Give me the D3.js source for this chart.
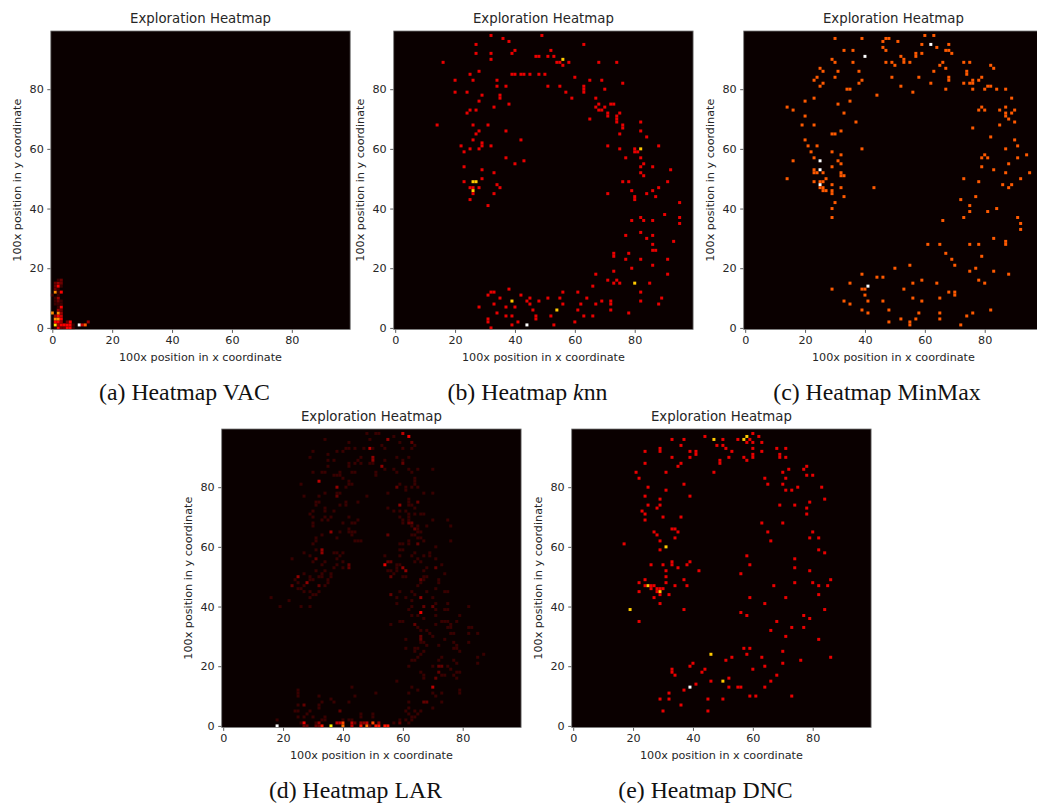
<!DOCTYPE html>
<html>
<head>
<meta charset="utf-8">
<script src="https://cdn.jsdelivr.net/npm/d3@7"></script>
<style>
  html, body { margin: 0; padding: 0; background: #fff; overflow: hidden; }
  text { font-family: "DejaVu Sans", sans-serif; fill: #262626; }
  .axis text { font-size: 11.2px; }
  .axis line { stroke: #333; stroke-width: 0.8; }
  .axis path { display: none; }
  .title { font-size: 13.3px; }
  .label { font-size: 11.2px; }
  .caption { font-family: "Liberation Serif", serif; font-size: 23.8px; fill: #111; }
</style>
</head>
<body>
<div id="chart"></div>
<script>
// cells are [x bin, y bin, visits]; visits left out means 1
let vacCells = [
    [1,0],[2,0,5],[3,0,2],[4,0,2],[5,0,5],[6,0,5],[7,0],
    [1,1,10],[2,1,3],[3,1,5],[4,1,5],[5,1,5],[6,1,5],[7,1],[9,1,14],[10,1,4],[11,1,7],
    [1,2,5],[2,2,5],[3,2,3],[5,2,2],[6,2,5],[12,2,3],
    [1,3,8],[2,3,8],[3,3,5],
    [1,4,3],[2,4,5],[3,4,4],
    [0,5,8],[2,5,8],[3,5,3],
    [2,6,3],[3,6,2],
    [2,7],[3,7,5],
    [1,8],[2,8],[3,8],
    [1,9],[2,9,2],[3,9],
    [1,10],[2,10,3],
    [0,11],[2,11],
    [1,12,8],[2,12],[3,12,5],
    [1,13,2],[2,13],
    [1,14,2],[2,14,5],[3,14],
    [1,15,2],[2,15,3],[3,15,2],
    [2,16],[3,16,2]
];

let knnCells = [
    [32,98],[49,98],[36,97],[38,96],[27,95],[63,95],[40,93],[52,93],[27,92],[32,92],[39,92],
    [47,91],[48,91],[51,91],[53,91],[32,90],[56,90,2],[16,89],[54,89],[55,89],[58,89],[68,89],[74,89],
    [56,88],[28,86],[25,85],[39,85],[40,85],[42,85],[43,85],[45,85],[48,85],[50,85],[60,84],
    [20,83],[26,83],[34,83],[65,83],[69,83],[76,82],[34,81],[37,81],[51,81],[55,81],[63,81],[63,80],[63,79],
    [70,80],[20,79],[24,79],[57,79],[29,78],[35,78],[35,77],[59,77],[67,77],[28,76],[68,75],[38,75],[72,75],[73,75],
    [33,74],[67,74],[70,74],[25,73],[27,73],[68,73],[69,73],[24,72],[71,72],[71,71],[75,72],[74,71],[74,70],[74,69],
    [65,70],[82,69],[14,68],[26,68],[31,68],[76,68],[76,67],[28,66],[37,66],[82,66],[27,65],[75,65],[84,64],
    [26,63],[42,63],[29,62],[29,61],[22,61],[32,61],[71,61],[88,61],[25,60],[28,60],[75,60],[80,60],[80,59],[81,59],[82,60,2],
    [23,59],[37,57],[82,57],[77,57],[40,55],[43,56],[83,55],[23,54],[82,54],[86,54],[29,53],[33,52],[82,52],[92,53],[83,51],[29,50],
    [23,49],[26,49,2],[27,49,2],[34,48],[25,47],[26,47],[28,47],[35,47],[26,46,2],[26,45],[33,45],[25,43],[31,41],
    [76,49],[78,49],[91,49],[79,46],[86,46],[88,47],[71,45],[84,45],[80,44],[80,43],[87,44],[95,42],
    [82,37],[90,38],[79,36],[83,36],[86,36],[95,37],[95,35],[82,32],[77,31],[86,31],[84,30],[93,29],[86,28],[86,26],[87,26],
    [78,25],[73,25],[73,24],[77,23],[82,23],[91,23],[86,21],[79,20],[73,19],[67,18],[91,18],[71,16],[74,16],
    [73,15],[75,15],[80,15,2],[85,15],[66,14],[38,13],[32,12],[33,12],[56,12],[61,12],[82,12],[31,11],[42,11],
    [35,10],[45,10],[51,10],[55,10],[64,10],[89,10],[39,9,2],[44,9],[48,9],[69,9],[72,9],[72,8],[82,9],
    [33,8],[45,8],[56,8],[62,8],[67,8],[88,8],[28,7],[37,7],[40,7],[46,6],[54,6,2],[61,6],[72,6],[34,5],[78,5],
    [37,4],[39,4],[52,4],[63,4],[66,4],[47,4],[47,3],[31,3],[31,2],[41,2],[60,2],[39,1],[44,1,3],[53,1],[32,0]
];

let minmaxCells = [
    [30,97],[39,97],[47,97],[48,97],[60,98],[63,98],[46,96],[51,96],[59,95],[62,95,2],[68,95],[46,94],[64,94],
    [33,93],[36,93],[47,93],[67,93],[68,93],[57,92],[57,91],[59,92],[69,92],[40,91,2],[52,91],[29,90],[53,90],[53,89],
    [30,89],[36,89],[47,89],[49,89],[55,89],[66,89],[73,89],[75,89],[50,88],[65,88],[82,88],[25,87],[67,87],[83,87],
    [26,86],[31,86],[38,86],[63,86],[74,86],[74,85],[24,84],[30,84],[49,84],[58,84],[79,84],[68,84],[68,83],
    [23,83],[39,83],[76,83],[78,83],[26,82],[38,82],[62,82],[73,82],[75,82],[76,82],[25,81],[52,81],[81,81],[82,81],
    [34,80],[35,80],[67,80],[76,80],[80,80],[84,80],[87,80],[56,79],[44,78],[23,77],[89,77],[20,76],[35,76],[31,75],
    [14,74],[79,74],[87,74],[16,73],[78,73],[80,73],[85,73],[90,73],[33,72],[87,72],[87,71],[89,72],[20,71],[88,70],
    [37,69],[90,69],[19,68],[23,68],[85,68],[76,67],[32,66],[29,65],[30,65],[82,64],[20,63],[90,63],[21,61],[24,61],[91,61],
    [39,60],[87,60],[22,59],[29,59],[32,58],[80,58],[94,58],[23,57],[79,57],[81,57],[91,57],[16,56],[25,56,2],[31,56],
    [32,55],[88,55],[29,54],[79,54],[25,53,2],[83,53],[23,53],[23,52],[24,52],[26,52],[32,52],[87,52],[95,52],[32,51],[33,51],
    [14,50],[27,50],[73,50],[92,50],[23,49],[25,49],[26,49],[78,49],[29,48],[86,48],[89,48],[25,48,2],
    [25,47],[26,47],[32,47],[43,47],[88,47],[26,46],[27,46],[29,46],[29,45],[33,44],[77,44],[72,43],[30,42],[75,41],
    [29,40],[84,40],[75,39],[81,39],[29,37],[73,37],[91,37],[66,36],[92,35],[92,33],[83,30],[87,29],[87,28],
    [61,28],[65,28],[75,28],[78,28],[67,25],[79,24],[69,23],[70,21],[55,21],[50,20],[77,20],[75,19],[83,19],[39,18],[88,18],
    [44,17],[46,17],[59,16],[78,16],[35,15],[56,15],[64,15],[80,15],[41,14,2],[29,13],[39,13],[40,13],[53,13],
    [68,12],[70,12],[70,11],[40,11],[56,10],[65,10],[33,9],[41,9],[46,9],[59,9],[35,8],[39,6],[48,6],[82,6],
    [41,5],[58,5],[65,5],[76,5],[74,4],[52,3],[57,3],[65,3],[48,2],[55,2],[55,1],[72,1]
];

let larCells = [
    [48,98],[51,98],[52,98],[60,98,4],[62,97,5],[57,97],[55,96,3],[49,96],[34,96],[42,95],[59,95],[63,95,2],[53,94],[64,94],
    [49,93,4],[41,93],[42,93],[44,93],[47,93],[50,93],[54,93],[60,93],[63,93],[30,92],[38,92],[40,92],[35,91],
    [29,90],[46,90],[50,90,3],[50,89,3],[58,90],[62,90],[35,89],[37,89],[45,89],[54,89],[60,89],
    [42,88],[44,88],[46,88],[49,88],[50,88],[60,88,2],[35,87],[42,87],[53,87,3],[54,86],[57,86],[62,86],[65,86],[70,86],
    [30,85],[33,85],[34,85],[39,85],[43,85],[44,85],[51,85],[58,85],[63,85],[37,84],[38,84],[39,84],[51,84],[40,83],[64,83],
    [32,82,4],[42,82],[64,82],[26,81],[42,81],[43,81],[59,81],[64,81],[38,80,3],[41,80],[58,80,2],[61,80],[63,80],[65,80],[61,79],
    [34,78],[38,78],[39,78],[55,78],[67,78],[70,78],[27,77],[32,77],[38,77,2],[48,77],[62,76],
    [31,75],[32,75],[41,75],[45,75],[62,75],[65,75,2],[31,74],[39,74],[41,74],[59,74,3],[62,74],[63,74],[34,73],[55,73],[64,73],
    [30,72],[34,72],[37,72],[57,72],[59,72],[61,72],[29,71],[62,71],[64,71],[66,71],[67,71],
    [30,70],[34,70],[36,70],[42,70],[59,70],[62,70],[33,69],[35,69],[45,69],[60,69],[62,69],[70,69],[75,69],
    [30,68],[40,68],[43,68],[44,68],[60,68],[62,68,2],[63,68,2],[30,67],[63,67],[65,67],[68,67],[76,67],[42,66],[64,66,2],[65,66],
    [36,65,3],[39,65],[42,65],[43,65],[44,65],[65,65],[66,65],[33,64],[43,64],[55,64,2],[63,64],[64,64],
    [31,63],[38,63],[65,63],[66,63],[31,62],[44,62],[45,62],[46,62],[62,62],[67,62],[76,62],
    [30,61],[59,61],[60,61],[62,61],[65,61,2],[71,60],[31,59],[33,59,3],[33,58,3],[59,59],[60,59],
    [27,58],[37,58],[38,58],[40,58],[64,58],[69,58],[29,57],[39,57],[54,57],[59,57],[63,57],[67,57],[69,57],
    [23,56],[31,56,2],[38,56],[65,56],[71,56],[30,55],[34,55],[40,55],[55,55,2],[56,55,2],[64,55],[66,55],
    [33,54],[38,54],[42,54,2],[42,53,2],[54,54,5],[58,54],[59,54],[73,54],[37,53],[40,53],[58,53],[60,53,3],[68,53],[71,53,2],
    [31,52],[34,52],[55,52],[56,52],[58,52],[61,52,3],[67,52],[27,51],[33,51],[36,51],[57,51],[74,51],
    [25,50,3],[29,50],[32,50],[33,50],[36,50],[56,50,2],[60,50],[61,50],[67,50],[68,50],
    [24,49],[29,49],[30,49],[35,49],[66,49,2],[67,49],[72,49],
    [28,48,3],[25,48],[35,48],[72,48],[66,48],[23,47,2],[27,47],[32,47,2],[34,47],[65,47],[25,46],[26,46],[71,46],
    [27,45],[29,45],[32,45],[59,45],[63,45],[68,45],[74,45],[75,45],[30,44],[31,44],[56,44,2],[64,44],
    [16,43],[29,43],[58,43],[61,43],[66,43,3],[70,43],[22,42],[63,42],[58,41],[71,41],[75,41],
    [19,40],[26,40],[29,40],[63,40],[67,40,2],[70,40,2],[82,40],[62,39],[71,39],[74,39],[75,39],[66,38,5],
    [63,37],[65,37],[71,37],[79,37],[67,36],[59,35],[60,35],[73,35],[74,35],[75,35],[78,35],
    [56,34],[64,34,2],[71,34],[76,34],[65,33],[75,33],[76,33],[82,33],[83,33],[66,32],[68,32],
    [69,31],[76,31],[77,31],[82,31],[85,31],[66,30,2],[70,30],[61,29],[66,29,2],[74,29],[66,28],[67,28],[77,28],[82,28],
    [68,27],[72,27],[78,27],[61,26],[64,26],[65,26],[77,26],[78,26],[64,25],[67,25],[79,25],[66,24],[87,24],
    [73,23],[85,23],[65,23],[63,22],[64,22],[72,22],[77,22],[78,21],[85,21],[62,20],[70,20],[72,20,2],[73,20,2],[75,20],
    [76,19],[72,18,2],[66,18],[78,18],[79,18],[67,17],[73,17],[74,17],[77,17],[67,16],[71,16,2],[78,16],[58,15],
    [70,13,4],[43,13],[63,13],[25,12],[25,11],[25,10],[65,12],[79,12],[79,11],[62,11],[51,11],[70,11],[73,11],[32,10],[44,10],[71,10],
    [36,9],[33,8],[37,8],[42,8],[62,8],[67,8,2],[68,8,2],[73,8],[25,7],[27,7,2],[32,7],[32,6],[62,6],[70,6],
    [24,5],[25,5],[29,5],[39,5,2],[61,5],[64,5],[66,5],[28,4],[46,4],[46,3],[50,4],[50,3],[62,4],[65,4],
    [25,3],[27,3],[30,3],[34,3],[63,3],[64,3],[33,2],[34,2],[40,2],[42,2],[43,2],[59,2],[61,2],[63,2],[18,2],
    [26,1],[27,1,5],[31,1],[32,1,3],[38,1,4],[39,1,4],[40,1,7],[43,1,4],[44,1,2],[46,1,3],[47,1,3],[48,1,4],[50,1,7],[52,1,3],[57,1],[59,1,2],[62,1],
    [18,0,15],[27,0,2],[28,0,2],[31,0,2],[32,0,2],[33,0,6],[36,0,11],[40,0,8],[43,0,4],[46,0,6],[48,0,8],[49,0,2],[51,0,6],[52,0,6],[54,0,6],[55,0,6]
];

let dncCells = [
    [44,97],[58,97,2],[60,98],[62,97],[33,96],[37,96],[47,96,2],[50,96],[55,96],[57,96,2],[59,96],[58,95],[60,95],[63,95],
    [36,94],[48,94],[50,94],[51,93],[60,93],[68,93],[71,93],[29,93],[29,92],[24,92],[39,92],[41,92],[41,91],[53,92],[63,92],
    [69,91],[69,90],[60,91],[60,90],[33,90],[39,90],[52,90],[57,90],[71,90],[49,89],[49,88],[58,89],[36,88],[24,88],[35,87],[78,87],
    [72,86],[77,86],[21,85],[31,85],[47,85],[70,85],[78,84],[80,84],[22,83],[64,83],[71,83],[37,81],[65,81],[70,81],
    [25,80],[75,80],[83,80],[31,79],[71,79],[73,79],[24,77],[39,77],[29,76],[84,76],[79,75],[25,74],[29,74],[69,74],[74,74],
    [28,73],[78,73],[23,72],[24,71],[78,71],[30,70],[36,70],[24,69],[63,68],[70,68],[33,66],[34,66],[27,65],[35,65],[65,65],[80,65],
    [28,64],[34,63],[79,63],[82,63],[29,62],[66,62],[17,61],[31,60,2],[29,59],[82,59],[84,58],[58,57],[74,56],[39,55],[33,55],[33,54],
    [26,54],[30,54],[38,54],[59,54],[35,53],[74,53],[31,52],[42,52],[79,52],[56,51],[31,50],[24,49],[37,49],[86,49],
    [22,48],[31,48],[74,48],[80,48],[24,47],[25,47,2],[26,47],[27,47],[34,47],[38,47],[67,47],[82,47],[85,47],
    [26,46],[28,46],[29,46],[30,46],[22,45],[28,45],[29,45,2],[29,44],[32,44],[82,44],[27,43],[59,43],[71,43],[29,41],[64,41],
    [19,39,2],[37,39],[84,39],[56,38],[58,37],[77,37],[79,36],[22,35],[68,35],[73,33],[77,33],[66,32],[71,30],[82,29],
    [57,26],[59,26],[70,25],[46,24,2],[58,24],[53,23],[63,23],[86,23],[76,22],[51,22],[40,21],[70,21],[39,20],[64,20],
    [33,19],[33,18],[44,19],[60,19],[43,18],[34,17],[68,17],[52,16],[46,15],[50,15,2],[66,15],[41,14],
    [39,13,3],[52,13],[55,13],[56,13],[64,13],[37,12],[32,11],[59,10],[61,10],[73,10],[29,9],[32,9],[45,9],[50,9],[36,7],[30,5],[45,5]
];

let tickValues = [0, 20, 40, 60, 80];
let panelTitle = "Exploration Heatmap";
let xLabel = "100x position in x coordinate";
let yLabel = "100x position in y coordinate";

// cmap "hot" break points
let hotStops = [0, 0.365, 0.746, 1];
let hotColors = ["#0a0000", "#ff0000", "#ffff00", "#ffffff"];
let hot = d3.scaleLinear().domain(hotStops).range(hotColors).clamp(true);

let w = 1037;
let h = 806;
let plotW = 299.4;
let plotH = 298.4;

let svg = d3.select("#chart")
    .append("svg")
    .attr("width", w)
    .attr("height", h)
    .style("display", "block");

// the reference is a resampled screenshot, cells have soft edges
svg.append("defs")
    .append("filter")
    .attr("id", "soft")
    .attr("filterUnits", "userSpaceOnUse")
    .attr("x", 0)
    .attr("y", 0)
    .attr("width", w)
    .attr("height", h)
    .append("feGaussianBlur")
    .attr("stdDeviation", 0.3);

let drawPanel = (cells, vmax, left, top, caption, captionX, captionY) => {
    let x = d3.scaleLinear().domain([-0.5, 99.5]).range([left, left + plotW]);
    let y = d3.scaleLinear().domain([-0.5, 99.5]).range([top + plotH, top]);
    let g = svg.append("g");

    g.append("rect")
        .attr("x", left)
        .attr("y", top)
        .attr("width", plotW)
        .attr("height", plotH)
        .attr("fill", hot(0));

    g.append("g")
        .attr("filter", "url(#soft)")
        .selectAll(".cell")
        .data(cells)
        .enter()
        .append("rect")
        .attr("class", "cell")
        .attr("x", d => x(d[0] - 0.5))
        .attr("y", d => y(d[1] + 0.5))
        .attr("width", x(1) - x(0))
        .attr("height", y(0) - y(1))
        .attr("fill", d => hot((d[2] || 1) / vmax));

    g.append("g")
        .attr("class", "axis")
        .attr("transform", "translate(0," + (top + plotH) + ")")
        .call(d3.axisBottom(x).tickValues(tickValues).tickSize(3.5).tickPadding(3.5));

    g.append("g")
        .attr("class", "axis")
        .attr("transform", "translate(" + left + ",0)")
        .call(d3.axisLeft(y).tickValues(tickValues).tickSize(3.5).tickPadding(3.5));

    g.selectAll(".axis text").attr("fill", null);

    g.append("rect")
        .attr("x", left)
        .attr("y", top)
        .attr("width", plotW)
        .attr("height", plotH)
        .attr("fill", "none")
        .attr("stroke", "#777")
        .attr("stroke-width", 0.8);

    g.append("text")
        .attr("class", "title")
        .attr("x", left + plotW / 2)
        .attr("y", top - 8)
        .attr("text-anchor", "middle")
        .text(panelTitle);

    g.append("text")
        .attr("class", "label")
        .attr("x", left + plotW / 2)
        .attr("y", top + plotH + 32)
        .attr("text-anchor", "middle")
        .text(xLabel);

    g.append("text")
        .attr("class", "label")
        .attr("transform", "translate(" + (left - 30) + "," + (top + plotH / 2) + ") rotate(-90)")
        .attr("text-anchor", "middle")
        .text(yLabel);

    let cap = g.append("text")
        .attr("class", "caption")
        .attr("x", captionX)
        .attr("y", captionY)
        .attr("text-anchor", "middle");
    caption.forEach(part => {
        cap.append("tspan")
            .style("font-style", part[1] ? "italic" : "normal")
            .text(part[0]);
    });
};

drawPanel(vacCells, 14, 50.8, 31, [["(a) Heatmap VAC"]], 184.5, 400);
drawPanel(knnCells, 3, 393.7, 31, [["(b) Heatmap "], ["k", true], ["nn"]], 527.5, 400);
drawPanel(minmaxCells, 2, 743.7, 31, [["(c) Heatmap MinMax"]], 877, 400);
drawPanel(larCells, 15, 221.7, 429, [["(d) Heatmap LAR"]], 355.5, 798);
drawPanel(dncCells, 3, 571.7, 429, [["(e) Heatmap DNC"]], 705.5, 798);
</script>
</body>
</html>
